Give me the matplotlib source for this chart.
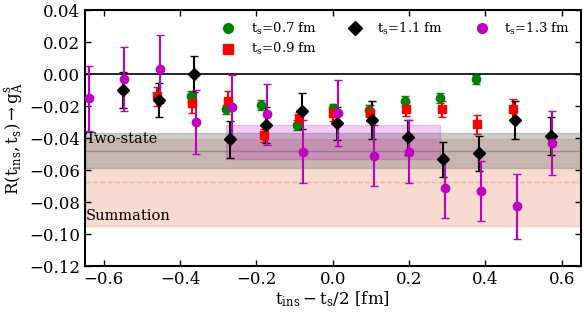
import matplotlib
matplotlib.use("Agg")
import matplotlib.pyplot as plt
from matplotlib.lines import Line2D

plt.rcParams['font.family'] = ['DejaVu Serif']
plt.rcParams['mathtext.fontset'] = 'dejavuserif'

# t_s = 0.7 fm
x07 = [-0.371, -0.280, -0.187, -0.093, 0.002, 0.096, 0.189, 0.282, 0.375]
y07 = [-0.0138, -0.0221, -0.0192, -0.0320, -0.0215, -0.0225, -0.0170, -0.0148, -0.0033]
e07 = [0.0035, 0.0030, 0.0030, 0.0030, 0.0030, 0.0030, 0.0030, 0.0030, 0.0030]

# t_s = 0.9 fm
x09 = [-0.461, -0.368, -0.275, -0.181, -0.089, 0.000, 0.098, 0.192, 0.286, 0.379, 0.472]
y09 = [-0.0138, -0.0183, -0.0169, -0.0383, -0.0277, -0.0246, -0.0246, -0.0220, -0.0220, -0.0314, -0.0220]
e09 = [0.006, 0.006, 0.006, 0.004, 0.004, 0.0045, 0.005, 0.0045, 0.005, 0.006, 0.0065]

# t_s = 1.1 fm
x11 = [-0.549, -0.455, -0.363, -0.269, -0.176, -0.081, 0.010, 0.104, 0.198, 0.290, 0.383, 0.478, 0.571]
y11 = [-0.0100, -0.0163, 0.0000, -0.0408, -0.0319, -0.0231, -0.0308, -0.0288, -0.0396, -0.0533, -0.0496, -0.0288, -0.0388]
e11 = [0.0112, 0.0107, 0.0115, 0.0117, 0.011, 0.011, 0.0105, 0.012, 0.011, 0.011, 0.011, 0.012, 0.012]

# t_s = 1.3 fm
x13 = [-0.638, -0.546, -0.452, -0.358, -0.265, -0.173, -0.079, 0.015, 0.108, 0.200, 0.294, 0.389, 0.482, 0.575]
y13 = [-0.0152, -0.0031, 0.0029, -0.0300, -0.0204, -0.0252, -0.0486, -0.0246, -0.0511, -0.0486, -0.0714, -0.0729, -0.0825, -0.0433]
e13 = [0.0203, 0.0200, 0.0213, 0.0200, 0.0200, 0.0190, 0.0196, 0.0206, 0.0190, 0.0196, 0.0186, 0.0188, 0.0203, 0.0200]

# fit bands: (center, half width)
two_state = (-0.0479, 0.0110)
summation = (-0.0677, 0.0271)
plateau = (-0.0426, 0.0107)
plateau_x = (-0.28, 0.28)

fig = plt.figure(figsize=(5.84, 3.13), dpi=100)
ax = fig.add_axes([0.145, 0.15, 0.8495, 0.818])

xlo, xhi = -0.65, 0.65
ax.fill_between([xlo, xhi], summation[0] - summation[1], summation[0] + summation[1],
                color='darksalmon', alpha=0.35, lw=1, zorder=1)
ax.axhline(summation[0], color='darksalmon', ls='--', lw=1, alpha=0.6, zorder=1)
ax.fill_between([xlo, xhi], two_state[0] - two_state[1], two_state[0] + two_state[1],
                color='gray', alpha=0.4, lw=1, zorder=1)
ax.axhline(two_state[0], color='dimgray', lw=1, alpha=0.5, zorder=1)
ax.fill_between(plateau_x, plateau[0] - plateau[1], plateau[0] + plateau[1],
                color='m', alpha=0.2, lw=1, zorder=1)
ax.axhline(0, color='k', lw=1.2, zorder=2)

series = [
    (x07, y07, e07, 'o', 'green', 6, r'$\mathrm{t_s}$=0.7 fm'),
    (x09, y09, e09, 's', 'red', 6, r'$\mathrm{t_s}$=0.9 fm'),
    (x11, y11, e11, 'D', 'black', 6.5, r'$\mathrm{t_s}$=1.1 fm'),
    (x13, y13, e13, 'o', 'm', 6, r'$\mathrm{t_s}$=1.3 fm'),
]
handles = []
for x, y, e, m, c, ms, lab in series:
    ax.errorbar(x, y, yerr=e, fmt=m, color=c, ms=ms, ls='none', capsize=3,
                elinewidth=1.5, capthick=1, zorder=3)
    handles.append(Line2D([], [], ls='none', marker=m, color=c, ms=ms + 1, label=lab))

ax.text(-0.647, -0.0408, 'Two-state', fontsize=10.5, va='center', ha='left', zorder=4)
ax.text(-0.647, -0.0890, 'Summation', fontsize=10.5, va='center', ha='left', zorder=4)

ax.set_xlim(xlo, xhi)
ax.set_ylim(-0.12, 0.04)
ax.set_xticks([-0.6, -0.4, -0.2, 0.0, 0.2, 0.4, 0.6])
ax.set_yticks([-0.12, -0.10, -0.08, -0.06, -0.04, -0.02, 0.00, 0.02, 0.04])
ax.tick_params(direction='in', top=True, right=True, labelsize=12, width=1, length=4)
for s in ax.spines.values():
    s.set_linewidth(1.5)

ax.set_xlabel(r'$\mathrm{t_{ins} - t_s/2\ [fm]}$', fontsize=12, labelpad=1)
ax.set_ylabel(r'$\mathrm{R(t_{ins},t_s)} \rightarrow \mathrm{g_A^s}$', fontsize=12, labelpad=2)

ax.legend(handles=handles, loc='upper right', ncol=3, frameon=False, fontsize=9.5,
          handlelength=1.0, handletextpad=1.2, columnspacing=2.4, borderaxespad=0.4,
          labelspacing=0.35)

fig.savefig('out.png', dpi=100)
